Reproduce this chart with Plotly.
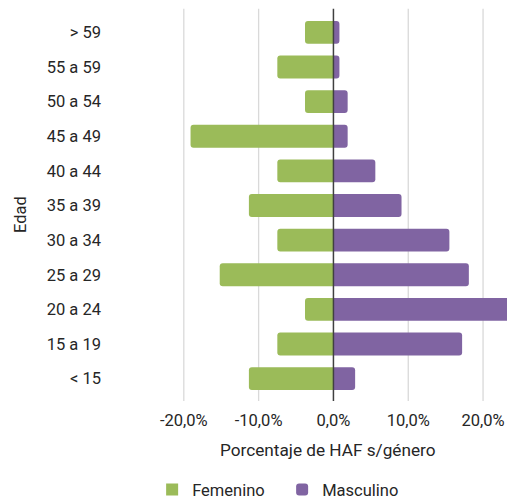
import plotly.graph_objects as go

categories = ["> 59", "55 a 59", "50 a 54", "45 a 49", "40 a 44", "35 a 39",
              "30 a 34", "25 a 29", "20 a 24", "15 a 19", "< 15"]
femenino = [3.8, 7.5, 3.8, 19.1, 7.5, 11.3, 7.5, 15.2, 3.8, 7.5, 11.3]
masculino = [0.8, 0.8, 1.9, 1.9, 5.6, 9.1, 15.5, 18.1, 24.0, 17.2, 2.9]
tick_vals = [-20, -10, 0, 10, 20]
tick_text = ["-20,0%", "-10,0%", "0,0%", "10,0%", "20,0%"]

GREEN = "#9BBB59"
PURPLE = "#8064A2"
TXT = "#262626"
FONT = dict(family="Roboto", size=16.5, color=TXT)

fig = go.Figure()
fig.add_trace(go.Bar(
    y=categories, x=[-v for v in femenino], orientation="h", name="Femenino",
    marker=dict(color=GREEN, line=dict(width=0)),
    customdata=femenino,
    hovertemplate="%{y}: %{customdata:.1f}%<extra>Femenino</extra>",
))
fig.add_trace(go.Bar(
    y=categories, x=masculino, orientation="h", name="Masculino",
    marker=dict(color=PURPLE, line=dict(width=0), cornerradius=3),
))

shapes = []
for v in tick_vals:
    if v == 0:
        continue
    shapes.append(dict(type="line", xref="x", yref="paper", x0=v, x1=v,
                       y0=-0.013, y1=1.0165, line=dict(color="#D9D9D9", width=1.3),
                       layer="below"))
shapes.append(dict(type="line", xref="x", yref="paper", x0=0, x1=0,
                   y0=-0.013, y1=1.0165, line=dict(color="#404040", width=1.5),
                   layer="above"))

fig.update_layout(
    width=507, height=499,
    margin=dict(l=109, r=0, t=15, b=103, autoexpand=False),
    barmode="relative",
    bargap=0.34,
    plot_bgcolor="white", paper_bgcolor="white",
    font=FONT,
    showlegend=True,
    legend=dict(orientation="h", x=0.435, xanchor="center", y=-0.2, yanchor="top",
                font=FONT, traceorder="normal", entrywidth=85, entrywidthmode="pixels"),
    xaxis=dict(range=[-30, 23.2], tickvals=tick_vals, ticktext=tick_text,
               showgrid=False, zeroline=False, showline=False, ticks="",
               tickfont=FONT, ticklabelstandoff=12, fixedrange=True),
    yaxis=dict(type="category", categoryorder="array", categoryarray=categories,
               autorange="reversed", showgrid=False, zeroline=False,
               showline=False, ticks="", tickfont=FONT, ticklabelstandoff=7),
    shapes=shapes,
    annotations=[
        dict(text="Porcentaje de HAF s/género", xref="x", yref="paper", x=-0.7, y=-0.142,
             xanchor="center", yanchor="middle", showarrow=False,
             font=dict(family="Roboto", size=17.2, color=TXT)),
        dict(text="Edad", xref="paper", yref="paper", x=-0.2236, y=0.475,
             textangle=-90, xanchor="center", yanchor="middle", showarrow=False, font=FONT),
    ],
)

fig.write_html("out.html", config={"displayModeBar": False},
               post_script="document.body.style.margin='0';")
